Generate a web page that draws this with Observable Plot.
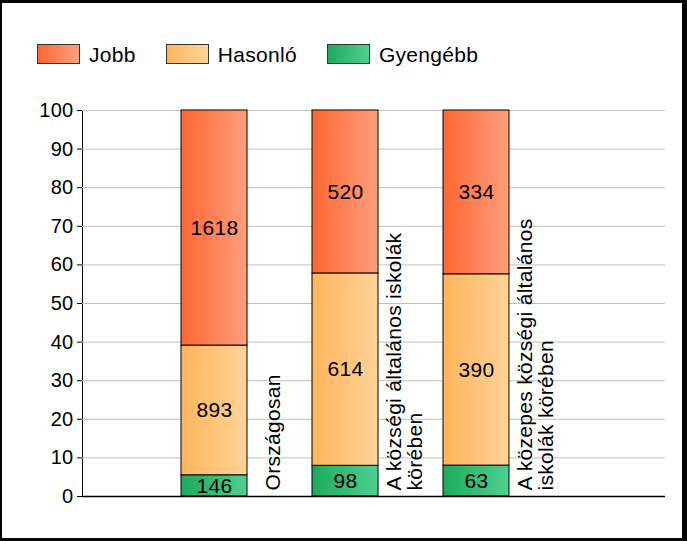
<!DOCTYPE html>
<html>
<head>
<meta charset="utf-8">
<script src="https://cdn.jsdelivr.net/npm/d3@7"></script>
<script src="https://cdn.jsdelivr.net/npm/@observablehq/plot@0.6"></script>
<style>
  body { margin: 0; background: #fff; font-family: "Liberation Sans", Arial, sans-serif; }
  #page { position: relative; width: 687px; height: 541px; overflow: hidden; }
  #chart { position: absolute; left: 0; top: 0; }
  #legend { position: absolute; left: 37px; top: 44px; display: flex; gap: 30px; align-items: center; }
  .item { display: flex; align-items: center; }
  .sw { width: 41px; height: 18px; border: 1px solid #333; }
  .lt { margin-left: 9px; font-size: 21px; line-height: 19px; color: #000; letter-spacing: 0.3px; }
  #border { position: absolute; left: 0; top: 0; width: 687px; height: 541px; box-sizing: border-box;
            border-style: solid; border-color: #000; border-width: 3px 5px 3px 2px; pointer-events: none; }
</style>
</head>
<body>
<div id="page">
  <div id="chart"></div>
  <div id="legend"></div>
  <div id="border"></div>
</div>
<script>
// ---- data ----
const categories = [
  "Országosan",
  "A községi általános iskolák körében",
  "A közepes községi általános iskolák körében"
];
const categoryLabels = [
  "Országosan",
  "A községi általános iskolák\nkörében",
  "A közepes községi általános\niskolák körében"
];
const seriesNames = ["Gyengébb", "Hasonló", "Jobb"];
const gyengebb = [146, 98, 63];
const hasonlo = [893, 614, 390];
const jobb = [1618, 520, 334];
const yTicks = [0, 10, 20, 30, 40, 50, 60, 70, 80, 90, 100];
const legendOrder = ["Jobb", "Hasonló", "Gyengébb"];

// ---- styles ----
const gradients = {
  "Jobb": ["#ff6633", "#ff9f7c"],
  "Hasonló": ["#ffb55c", "#ffd397"],
  "Gyengébb": ["#1eaa5c", "#4fd091"]
};
const gradId = {"Jobb": "gJobb", "Hasonló": "gHas", "Gyengébb": "gGy"};

// ---- build rows ----
const seriesValues = [gyengebb, hasonlo, jobb];
const rows = [];
categories.forEach((cat, i) => {
  const total = gyengebb[i] + hasonlo[i] + jobb[i];
  seriesNames.forEach((s, j) => {
    rows.push({cat, series: s, count: seriesValues[j][i], pct: seriesValues[j][i] / total * 100});
  });
});
const labelRows = categories.map((cat, i) => ({cat, label: categoryLabels[i]}));

const defsMark = () => {
  const defs = d3.create("svg:defs");
  for (const s of seriesNames) {
    const g = defs.append("linearGradient").attr("id", gradId[s])
      .attr("x1", "0%").attr("x2", "100%").attr("y1", "0%").attr("y2", "0%");
    g.append("stop").attr("offset", "0%").attr("stop-color", gradients[s][0]);
    g.append("stop").attr("offset", "100%").attr("stop-color", gradients[s][1]);
  }
  return defs.node();
};

const plot = Plot.plot({
  width: 687,
  height: 541,
  marginLeft: 82,
  marginRight: 22,
  marginTop: 110,
  marginBottom: 45,
  style: {fontFamily: "'Liberation Sans', Arial, sans-serif", fontSize: "20px", color: "#000", background: "transparent", letterSpacing: "0.3px"},
  x: {type: "band", domain: categories, range: [114.25, 574.75], padding: 0.5, axis: null},
  y: {domain: [0, 100], ticks: yTicks, tickSize: 5, tickPadding: 4, label: null, line: true, tickFormat: d => String(d)},
  color: {type: "identity"},
  marks: [
    defsMark,
    Plot.ruleY(yTicks.filter(t => t > 0), {stroke: "#c0c0c0", strokeWidth: 1}),
    Plot.barY(rows, {x: "cat", y: "pct", z: "series", fill: d => `url(#${gradId[d.series]})`, stroke: "#000", strokeWidth: 1}),
    Plot.text(rows, Plot.stackY({x: "cat", y: "pct", z: "series", text: d => String(d.count), fill: "#000", fontSize: 21})),
    Plot.text(labelRows, {x: "cat", y: d => 0, text: "label", rotate: -90, textAnchor: "start", lineAnchor: "middle", lineHeight: 1.02, dx: 59, dy: -6, fill: "#000", fontSize: 21}),
    Plot.ruleY([0], {stroke: "#000", strokeWidth: 1.3})
  ]
});
document.getElementById("chart").appendChild(plot);

// legend
const legend = document.getElementById("legend");
for (const s of legendOrder) {
  const item = document.createElement("div");
  item.className = "item";
  const sw = document.createElement("div");
  sw.className = "sw";
  sw.style.background = `linear-gradient(to right, ${gradients[s][0]}, ${gradients[s][1]})`;
  const t = document.createElement("span");
  t.className = "lt";
  t.textContent = s;
  item.appendChild(sw);
  item.appendChild(t);
  legend.appendChild(item);
}
</script>
</body>
</html>
